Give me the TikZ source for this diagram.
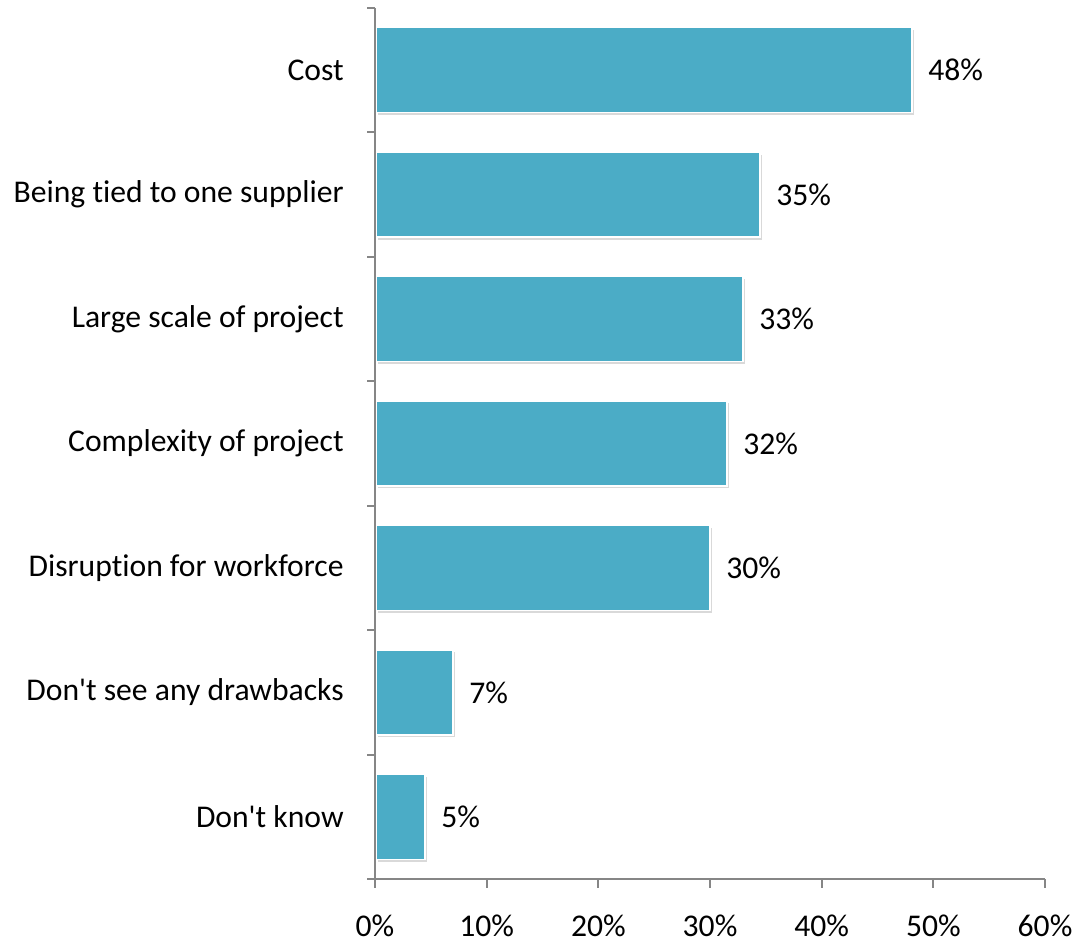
\documentclass[tikz,border=0pt]{standalone}
\usepackage{fontspec}
\setmainfont{Carlito}[Ligatures={NoCommon,TeXOff}]
\usetikzlibrary{shadows}
\definecolor{BarBlue}{HTML}{4BACC6}
\definecolor{AxisGray}{HTML}{868686}

\begin{document}
\begin{tikzpicture}[x=0.02cm, y=-0.02cm, font=\fontsize{18}{21}\selectfont,
    bar/.style={fill=BarBlue, draw=white, line width=0.8pt,
                drop shadow={shadow xshift=1.2pt, shadow yshift=-1.4pt, opacity=0.3}},
    axis/.style={draw=AxisGray, line width=1.1pt},
    catlabel/.style={anchor=east, inner sep=0pt},
    vallabel/.style={anchor=west, inner sep=0pt}]
\useasboundingbox (0,0) rectangle (1075,943);

% bars, row labels and values
\foreach \i/\r/\txt/\v in {0/912/Cost/48, 1/760/Being tied to one supplier/35,
    2/743/Large scale of project/33, 3/727/Complexity of project/32,
    4/710/Disruption for workforce/30, 5/453/Don't see any drawbacks/7,
    6/425/Don't know/5} {
  \pgfmathsetmacro{\yc}{70.2+124.43*\i}
  \draw[bar] (376,\yc-42.5) rectangle (\r,\yc+42.5);
  \node[catlabel] (cat\i) at (344,\yc) {\txt};
  \node[vallabel] (val\i) at (\r+16,\yc) {\v\%};
}

% axes
\coordinate (o) at (375,879);
\coordinate (top) at (375,8);
\coordinate (xend) at (1045,879);
\draw[axis] (top) -- (o) -- (xend);
\foreach \k in {0,...,7}
  \draw[axis] (367,8+124.43*\k) -- (375,8+124.43*\k);
\foreach \k in {0,...,6} {
  \draw[axis] (375+111.67*\k,879) -- (375+111.67*\k,888);
  \node[inner sep=0pt] (tick\k) at (375+111.67*\k,926) {\pgfmathparse{int(10*\k)}\pgfmathresult\%};
}
\end{tikzpicture}
\end{document}
